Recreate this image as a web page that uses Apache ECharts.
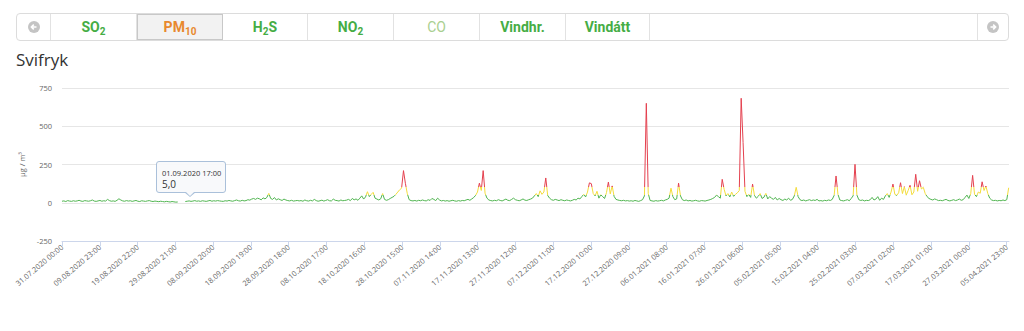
<!DOCTYPE html>
<html>
<head>
<meta charset="utf-8">
<script src="https://cdn.jsdelivr.net/npm/echarts@6/dist/echarts.min.js"></script>
<style>
  html, body { margin: 0; padding: 0; background: #fff; }
  #wrap { position: relative; width: 1024px; height: 331px; overflow: hidden; font-family: "Open Sans", Roboto, sans-serif; }
  #chart { position: absolute; left: 0; top: 0; width: 1024px; height: 331px; }
  #tabs { position: absolute; left: 16px; top: 13px; width: 993px; height: 28px; box-sizing: border-box;
          border: 1px solid #dcdcdc; border-radius: 4px; display: flex; background: #fff; overflow: hidden; }
  .cell { box-sizing: border-box; height: 100%; border-right: 1px solid #e2e2e2; display: flex; align-items: center;
          justify-content: center; font-family: Roboto, "Open Sans", sans-serif; font-weight: bold; font-size: 14px; color: #45ad45; }
  .sb { font-size: 10px; position: relative; top: 4px; }
  .sel { background: #f2f2f2; border: 1px solid #c8c8c8; color: #e8892e; }
  .pale { color: #a9cf8f; font-weight: normal; }
  .arrow { width: 12px; height: 12px; border-radius: 50%; background: #c4c4c4; position: relative; }
  .arrow svg { position: absolute; left: 0; top: 0; }
  #title { position: absolute; left: 16px; top: 48px; font-size: 17px; color: #333; font-family: "Open Sans", sans-serif; }
  #tip { position: absolute; left: 156px; top: 161px; width: 70px; height: 32px; box-sizing: border-box;
         border: 1px solid #aac0da; border-radius: 3px; background: rgba(248,249,251,0.95); }
  #tip .t1 { position: absolute; left: 5px; top: 6px; font-size: 7.5px; color: #333; white-space: nowrap; }
  #tip .t2 { position: absolute; left: 5px; top: 15px; font-size: 10px; color: #333; }
  #ptr { position: absolute; left: 184px; top: 192px; width: 0; height: 0; border-left: 6px solid transparent;
         border-right: 6px solid transparent; border-top: 5px solid #aac0da; }
  #ptr2 { position: absolute; left: 185px; top: 191px; width: 0; height: 0; border-left: 5px solid transparent;
         border-right: 5px solid transparent; border-top: 5px solid #f8f9fb; }
</style>
</head>
<body>
<div id="wrap">
  <div id="chart"></div>
  <div id="tabs">
    <div class="cell" style="width:34px"><div class="arrow"><svg width="12" height="12"><path d="M8.5 6 H3.5 M5.8 3.6 L3.4 6 L5.8 8.4" stroke="#fff" stroke-width="1.6" fill="none"/></svg></div></div>
    <div class="cell" style="width:86px">SO<span class="sb">2</span></div>
    <div class="cell sel" style="width:86px">PM<span class="sb">10</span></div>
    <div class="cell" style="width:85px">H<span class="sb">2</span>S</div>
    <div class="cell" style="width:86px">NO<span class="sb">2</span></div>
    <div class="cell pale" style="width:86px">CO</div>
    <div class="cell" style="width:86px">Vindhr.</div>
    <div class="cell" style="width:84px">Vindátt</div>
    <div class="cell" style="width:328px"></div>
    <div class="cell" style="flex:1;border-right:none"><div class="arrow"><svg width="12" height="12"><path d="M3.5 6 H8.5 M6.2 3.6 L8.6 6 L6.2 8.4" stroke="#fff" stroke-width="1.6" fill="none"/></svg></div></div>
  </div>
  <div id="title">Svifryk</div>
  <div id="ptr"></div>
  <div id="tip"><div class="t1">01.09.2020 17:00</div><div class="t2">5,0</div></div>
  <div id="ptr2"></div>
</div>
<script>
// Tick labels (every 239 hours from 31.07.2020 00:00)
var tickLabels = [
  '31.07.2020 00:00','09.08.2020 23:00','19.08.2020 22:00','29.08.2020 21:00','08.09.2020 20:00',
  '18.09.2020 19:00','28.09.2020 18:00','08.10.2020 17:00','18.10.2020 16:00','28.10.2020 15:00',
  '07.11.2020 14:00','17.11.2020 13:00','27.11.2020 12:00','07.12.2020 11:00','17.12.2020 10:00',
  '27.12.2020 09:00','06.01.2021 08:00','16.01.2021 07:00','26.01.2021 06:00','05.02.2021 05:00',
  '15.02.2021 04:00','25.02.2021 03:00','07.03.2021 02:00','17.03.2021 01:00','27.03.2021 00:00',
  '05.04.2021 23:00'
];
var tickStepHours = 239;
var sampleStepHours = 12;

// PM10 (µg/m³), one reading per 12 hours
var pm10 = [
  10,12,8,14,11,9,13,10,12,16,11,9,14,12,10,13,18,11,9,12,15,10,13,11,22,
  14,10,12,9,16,26,18,12,10,14,11,13,9,12,15,10,8,13,11,9,12,14,10,8,11,
  9,7,10,8,6,9,7,5,8,6,4,5,null,null,null,8,10,12,9,11,14,10,12,9,13,
  11,9,12,15,10,13,11,14,12,10,9,13,11,15,12,10,14,18,13,11,16,12,14,20,17,
  24,28,22,30,26,19,32,25,35,61,28,22,34,18,26,20,15,24,18,14,12,16,11,13,15,
  12,14,10,18,13,11,16,12,22,14,10,13,17,11,15,20,13,12,24,16,14,11,18,13,15,
  17,22,14,28,19,25,16,30,45,24,38,72,40,55,68,30,24,18,26,60,22,16,20,28,35,
  42,55,70,85,95,210,127,60,20,14,12,15,11,16,13,18,14,12,20,15,28,22,14,30,18,
  12,15,11,14,10,13,16,12,10,14,11,15,13,18,22,16,25,34,48,70,128,80,210,62,30,
  18,14,12,16,13,20,15,12,18,24,16,14,22,30,20,16,13,18,25,17,15,20,24,30,45,
  60,40,78,55,70,162,48,30,20,16,22,18,14,20,16,13,18,15,12,16,22,18,30,25,40,
  55,38,70,130,125,60,45,75,30,52,40,28,66,135,58,110,42,22,18,15,13,16,12,14,11,
  13,10,15,12,9,14,20,45,650,60,15,12,10,14,11,13,16,12,18,22,30,95,40,20,25,
  128,45,20,14,18,12,15,11,13,16,12,10,14,13,11,15,18,22,28,35,50,40,30,153,88,
  45,60,38,70,42,55,65,80,683,393,75,40,55,35,122,48,30,42,60,28,36,61,25,40,30,
  22,35,18,28,20,15,24,18,30,16,22,45,101,40,20,14,18,12,16,20,14,18,15,22,12,
  14,11,16,13,18,15,22,48,175,55,18,14,12,16,20,13,28,45,251,50,20,15,18,12,16,
  14,20,35,18,24,40,16,30,22,45,60,35,70,122,55,48,65,131,60,105,50,80,114,52,70,
  186,75,144,90,101,60,40,28,22,18,25,20,14,16,13,18,22,15,12,16,20,14,18,24,16,
  20,35,50,28,60,179,55,40,70,62,137,80,109,60,30,18,14,16,12,15,13,18,14,20,98
];

var yTicks = [-250, 0, 250, 500, 750];

var seriesData = pm10.map(function (v, i) { return [i * sampleStepHours, v]; });
var tickHours = tickLabels.map(function (_, k) { return k * tickStepHours; });

var chart = echarts.init(document.getElementById('chart'), null, { renderer: 'svg' });
chart.setOption({
  animation: false,
  textStyle: { fontFamily: '"Open Sans", sans-serif' },
  grid: { left: 62, right: 15, top: 88, bottom: 90, containLabel: false },
  xAxis: {
    type: 'value', min: 0, max: 5990,
    axisLine: { show: true, onZero: false, lineStyle: { color: '#ccd6eb', width: 1 } },
    axisTick: { show: true, length: 5, lineStyle: { color: '#ccd6eb' }, customValues: tickHours },
    axisLabel: {
      customValues: tickHours, rotate: 40, fontSize: 7.5, color: '#666', margin: 5,
      formatter: function (v) { var k = Math.round(v / tickStepHours); return tickLabels[k] || ''; }
    },
    splitLine: { show: false }
  },
  yAxis: {
    type: 'value', min: yTicks[0], max: yTicks[yTicks.length - 1], interval: 250,
    name: 'µg / m³', nameLocation: 'middle', nameRotate: 90, nameGap: 33,
    nameTextStyle: { fontSize: 7.5, color: '#666' },
    axisLine: { show: false }, axisTick: { show: false },
    axisLabel: { fontSize: 7.5, color: '#666', margin: 10 },
    splitLine: { lineStyle: { color: '#e6e6e6', width: 1 } }
  },
  visualMap: {
    show: false, type: 'piecewise', seriesIndex: 0, dimension: 1,
    pieces: [
      { lt: 50, color: '#4fb44f' },
      { gte: 50, lt: 100, color: '#f3dc3c' },
      { gte: 100, color: '#e4404e' }
    ]
  },
  series: [{
    type: 'line', data: seriesData, showSymbol: false, symbol: 'none',
    connectNulls: false, lineStyle: { width: 1 }
  }]
});
</script>
</body>
</html>
